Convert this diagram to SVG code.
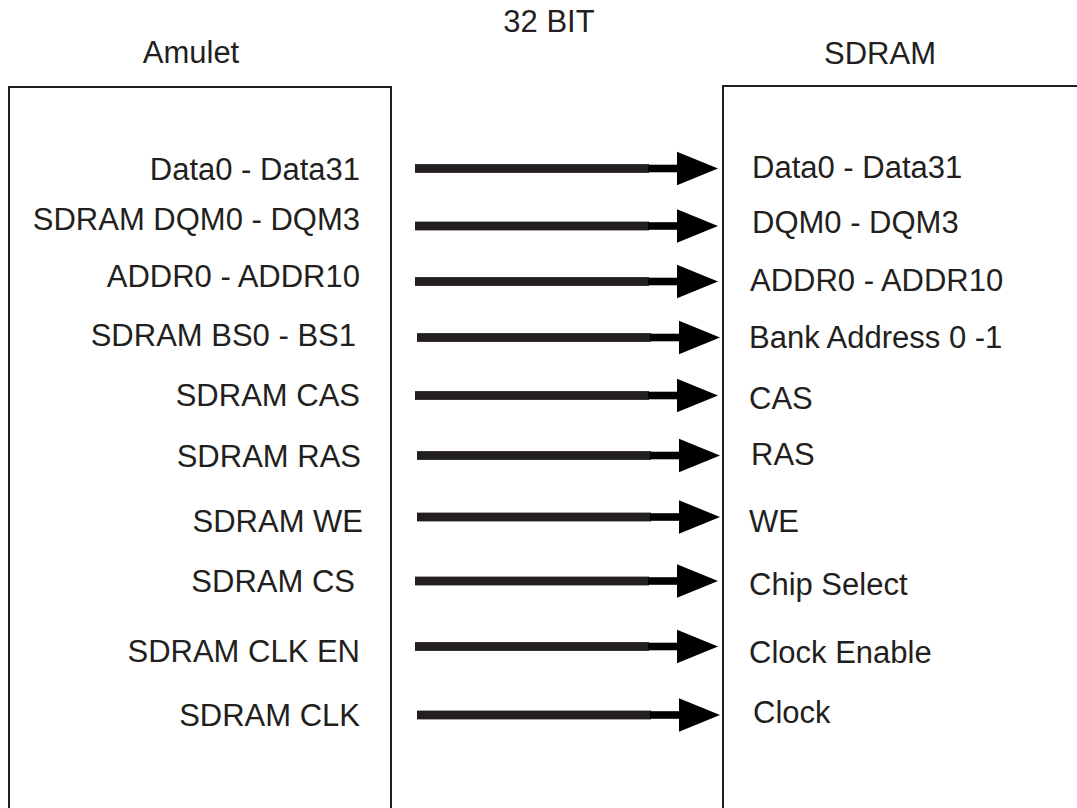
<svg xmlns="http://www.w3.org/2000/svg" xmlns:xlink="http://www.w3.org/1999/xlink" width="1077" height="808" viewBox="0 0 1077 808">
<style>
text{font-family:"Liberation Sans",Arial,sans-serif;font-size:31px;fill:#231f20}
.l{text-anchor:end}
.box{fill:#fff;stroke:#231f20;stroke-width:2}
</style>
<defs>
<g id="arrow">
<rect x="415" y="-4.4" width="234" height="8.8" fill="#231f20"/>
<rect x="648" y="-3.8" width="31" height="7.6" fill="#000"/>
<polygon points="677,-16.7 718,0 677,16.7" fill="#000"/>
</g>
</defs>
<rect width="1077" height="808" fill="#fff"/>
<text x="549" y="32" text-anchor="middle">32 BIT</text>
<g id="amulet">
<rect class="box" x="9" y="87" width="382" height="740"/>
<text x="191" y="63" text-anchor="middle">Amulet</text>
<text class="l" x="360" y="180">Data0 - Data31</text>
<text class="l" x="360" y="230">SDRAM DQM0 - DQM3</text>
<text class="l" x="360" y="287">ADDR0 - ADDR10</text>
<text class="l" x="356" y="346">SDRAM BS0 - BS1</text>
<text class="l" x="360" y="406">SDRAM CAS</text>
<text class="l" x="361" y="467">SDRAM RAS</text>
<text class="l" x="363" y="532">SDRAM WE</text>
<text class="l" x="355" y="592">SDRAM CS</text>
<text class="l" x="360" y="662">SDRAM CLK EN</text>
<text class="l" x="360" y="726">SDRAM CLK</text>
</g>
<g id="sdram">
<rect class="box" x="723" y="86" width="400" height="740"/>
<text x="880" y="64" text-anchor="middle">SDRAM</text>
<text x="752" y="178">Data0 - Data31</text>
<text x="752" y="233">DQM0 - DQM3</text>
<text x="750" y="291">ADDR0 - ADDR10</text>
<text x="749" y="348">Bank Address 0 -1</text>
<text x="749" y="409">CAS</text>
<text x="751" y="465">RAS</text>
<text x="749" y="532">WE</text>
<text x="749" y="595">Chip Select</text>
<text x="749" y="663">Clock Enable</text>
<text x="753" y="723">Clock</text>
</g>
<g id="connectors">
<use xlink:href="#arrow" y="168.5"/>
<use xlink:href="#arrow" y="226"/>
<use xlink:href="#arrow" y="281.5"/>
<use xlink:href="#arrow" x="2" y="337.5"/>
<use xlink:href="#arrow" y="395.5"/>
<use xlink:href="#arrow" x="2" y="455.5"/>
<use xlink:href="#arrow" x="2" y="517"/>
<use xlink:href="#arrow" y="581"/>
<use xlink:href="#arrow" y="646.5"/>
<use xlink:href="#arrow" x="2" y="715"/>
</g>
</svg>
